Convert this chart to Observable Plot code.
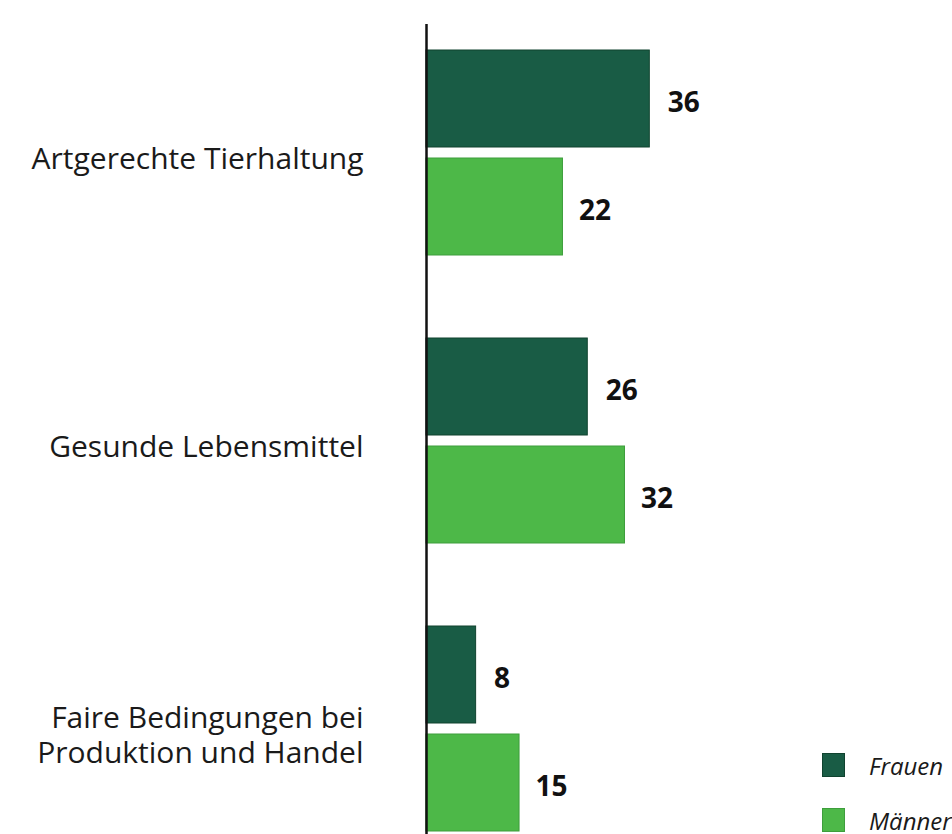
<!DOCTYPE html>
<html>
<head>
<meta charset="utf-8">
<script src="https://cdn.jsdelivr.net/npm/d3@7"></script>
<script src="https://cdn.jsdelivr.net/npm/@observablehq/plot@0.6"></script>
<style>
  html, body { margin: 0; padding: 0; background: #fff; }
  #wrap { position: relative; width: 952px; height: 834px; overflow: hidden; }
  #legend { position: absolute; left: 822px; top: 753px; font-family: "Open Sans", sans-serif; font-style: italic; font-size: 24px; color: #1a1a1a; }
  .item { display: flex; align-items: center; height: 24px; margin-bottom: 31px; white-space: nowrap; }
  .sw { width: 23px; height: 24px; margin-right: 24px; box-sizing: border-box; }
</style>
</head>
<body>
<div id="wrap"><div id="legend"></div></div>
<script>
const categories = ["Artgerechte Tierhaltung", "Gesunde Lebensmittel", "Faire Bedingungen bei\nProduktion und Handel"];
const series = ["Frauen", "Männer"];
const frauen = [36, 26, 8];
const maenner = [22, 32, 15];
const colors = ["#195c45", "#4db848"];
const strokes = ["#10432f", "#3e9e3c"];

const dataF = categories.map((c, i) => ({category: c, value: frauen[i]}));
const dataM = categories.map((c, i) => ({category: c, value: maenner[i]}));

const font = '"Open Sans", sans-serif';

const chart = Plot.plot({
  width: 952,
  height: 834,
  marginLeft: 426,
  marginRight: 0,
  marginTop: 24,
  marginBottom: 0,
  style: {fontFamily: font, background: "transparent"},
  x: {domain: [0, 84.8], axis: null},
  y: {domain: categories, range: [50, 831], paddingInner: 83 / 288, paddingOuter: 0, axis: null},
  marks: [
    Plot.barX(dataF, {x: "value", y: "category", fill: colors[0], stroke: strokes[0], strokeWidth: 1, insetBottom: 108}),
    Plot.barX(dataM, {x: "value", y: "category", fill: colors[1], stroke: strokes[1], strokeWidth: 1, insetTop: 108}),
    Plot.ruleX([0], {stroke: "#111", strokeWidth: 2.5}),
    Plot.text(dataF, {x: "value", y: "category", text: d => String(d.value), dx: 18, dy: -50, textAnchor: "start", fontSize: 28, fontWeight: "bold", fill: "#111"}),
    Plot.text(dataM, {x: "value", y: "category", text: d => String(d.value), dx: 16, dy: 58, textAnchor: "start", fontSize: 28, fontWeight: "bold", fill: "#111"}),
    Plot.text(categories, {x: () => 0, y: d => d, text: d => d, dx: -63, dy: 5, textAnchor: "end", fontSize: 30, lineHeight: 1.17, fill: "#1a1a1a"})
  ]
});
document.getElementById("wrap").prepend(chart);

const legend = document.getElementById("legend");
series.forEach((s, i) => {
  const item = document.createElement("div");
  item.className = "item";
  const sw = document.createElement("div");
  sw.className = "sw";
  sw.style.background = colors[i];
  sw.style.border = "1px solid " + strokes[i];
  const label = document.createElement("span");
  label.textContent = s;
  item.appendChild(sw);
  item.appendChild(label);
  legend.appendChild(item);
});
</script>
</body>
</html>
